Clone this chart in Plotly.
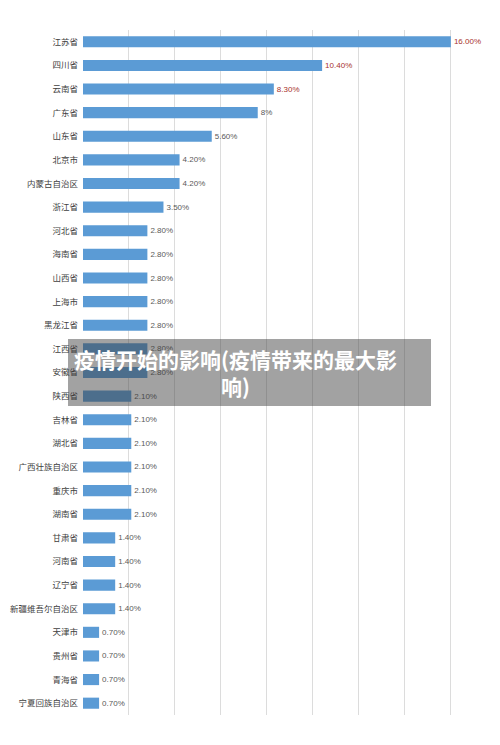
import plotly.graph_objects as go

# provinces, top to bottom
provinces = ['江苏省', '四川省', '云南省', '广东省', '山东省', '北京市', '内蒙古自治区', '浙江省',
             '河北省', '海南省', '山西省', '上海市', '黑龙江省', '江西省', '安徽省', '陕西省',
             '吉林省', '湖北省', '广西壮族自治区', '重庆市', '湖南省', '甘肃省', '河南省', '辽宁省',
             '新疆维吾尔自治区', '天津市', '贵州省', '青海省', '宁夏回族自治区']
shares = [16.0, 10.4, 8.3, 7.6, 5.6, 4.2, 4.2, 3.5,
          2.8, 2.8, 2.8, 2.8, 2.8, 2.8, 2.8, 2.1,
          2.1, 2.1, 2.1, 2.1, 2.1, 1.4, 1.4, 1.4,
          1.4, 0.7, 0.7, 0.7, 0.7]
share_labels = ['16.00%', '10.40%', '8.30%', '8%', '5.60%', '4.20%', '4.20%', '3.50%',
                '2.80%', '2.80%', '2.80%', '2.80%', '2.80%', '2.80%', '2.80%', '2.10%',
                '2.10%', '2.10%', '2.10%', '2.10%', '2.10%', '1.40%', '1.40%', '1.40%',
                '1.40%', '0.70%', '0.70%', '0.70%', '0.70%']
x_ticks = [0, 2, 4, 6, 8, 10, 12, 14, 16, 18]

overlay_title = '疫情开始的影响(疫情带来的最大影<br>响)'

# first three labels are in red in the original
label_colors = ['#a8322d'] * 3 + ['#595959'] * (len(shares) - 3)

# page body has an 8px margin, so the figure is shrunk by that much
W, H = 492, 737
L, R, T, B = 75, 2, 22, 30
pw, ph = W - L - R, H - T - B


def px_x(x):
    return (x - 8 - L) / pw


def px_y(y):
    return (H - B - (y - 8)) / ph


fig = go.Figure()
fig.add_trace(go.Bar(
    y=provinces,
    x=shares,
    orientation='h',
    marker=dict(color='#5b9bd5', line=dict(width=0)),
    width=0.47,
    text=share_labels,
    textposition='outside',
    textfont=dict(size=8, color=label_colors, family='Liberation Sans'),
    cliponaxis=False,
))

fig.update_layout(
    width=W, height=H,
    margin=dict(l=L, r=R, t=T, b=B),
    paper_bgcolor='white',
    plot_bgcolor='white',
    showlegend=False,
    font=dict(family='Noto Sans CJK SC', color='#404040'),
    xaxis=dict(
        range=[0, 18.05],
        tickvals=x_ticks,
        showticklabels=False,
        showgrid=True,
        gridcolor='#dcdcdc',
        gridwidth=1,
        zeroline=False,
        showline=False,
        automargin=False,
    ),
    yaxis=dict(
        autorange='reversed',
        tickfont=dict(size=8.5, color='#404040'),
        ticklabelstandoff=4,
        showgrid=False,
        showline=False,
        automargin=False,
    ),
    shapes=[dict(
        type='rect', xref='paper', yref='paper',
        x0=px_x(68), x1=px_x(431),
        y0=px_y(406), y1=px_y(339),
        fillcolor='rgba(60,60,60,0.48)',
        line=dict(width=0),
        layer='above',
    )],
    annotations=[dict(
        text='<b>' + overlay_title + '</b>',
        xref='paper', yref='paper',
        x=px_x(235), y=px_y(372),
        xanchor='center', yanchor='middle',
        showarrow=False,
        font=dict(size=21, color='white', family='Noto Sans CJK SC'),
        align='center',
    )],
)

fig.write_html('out.html')
